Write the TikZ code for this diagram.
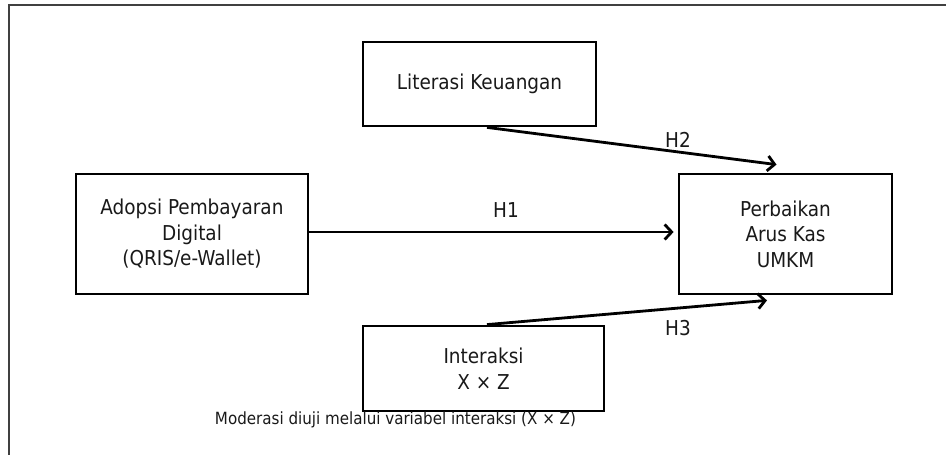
\documentclass[tikz,border=0pt]{standalone}
\usepackage{fontspec}
\setmainfont{DejaVu Sans Condensed}
\usetikzlibrary{arrows.meta,calc}
\begin{document}
\begin{tikzpicture}[x=1pt,y=1pt,
  varbox/.style={draw=black,line width=2.8pt,inner sep=0pt,align=center,
    font=\fontsize{20.5}{25.5}\selectfont,text=black!90},
  path/.style={line width=2.8pt,-{Straight Barb[length=7pt,width=15pt,line width=2.8pt]}},
  hlabel/.style={font=\fontsize{20.5}{23}\selectfont,text=black!90}]
  \useasboundingbox (0,0) rectangle (946,455);
  % frame edges
  \coordinate (ftl) at (8.5,449.5);
  \coordinate (ftr) at (946,449.5);
  \coordinate (fbl) at (8.5,0);
  \draw[line width=2pt,black!75] (fbl) -- (ftl) -- (ftr);
  % variables
  \node[varbox,minimum width=233pt,minimum height=84pt] (lit) at (479.5,371) {Literasi Keuangan};
  \node[varbox,minimum width=232pt,minimum height=120pt] (adop) at (192,221) {Adopsi Pembayaran\\Digital\\(QRIS/e-Wallet)};
  \node[varbox,minimum width=213pt,minimum height=120pt] (perb) at (785.5,221) {Perbaikan\\Arus Kas\\UMKM};
  \node[varbox,minimum width=241pt,minimum height=85pt] (inter) at (483.5,86.5) {Interaksi\\X × Z};
  % hypothesised paths
  \draw[path] ($(adop.east)+(0,2)$) -- ($(perb.west)+(-4,2)$);
  \draw[path] ($(lit.south)+(7.5,0)$) -- ($(perb.north)+(-9,8)$);
  \draw[path] ($(inter.north)+(3.5,0)$) -- ($(perb.south)+(-18.5,-5)$);
  \node[hlabel] (h1) at (506,245) {H1};
  \node[hlabel] (h2) at (678,315) {H2};
  \node[hlabel] (h3) at (678,127) {H3};
  % note
  \node[font=\fontsize{16.8}{19}\selectfont,text=black!90] (note) at (395.5,35) {Moderasi diuji melalui variabel interaksi (X × Z)};
\end{tikzpicture}
\end{document}
